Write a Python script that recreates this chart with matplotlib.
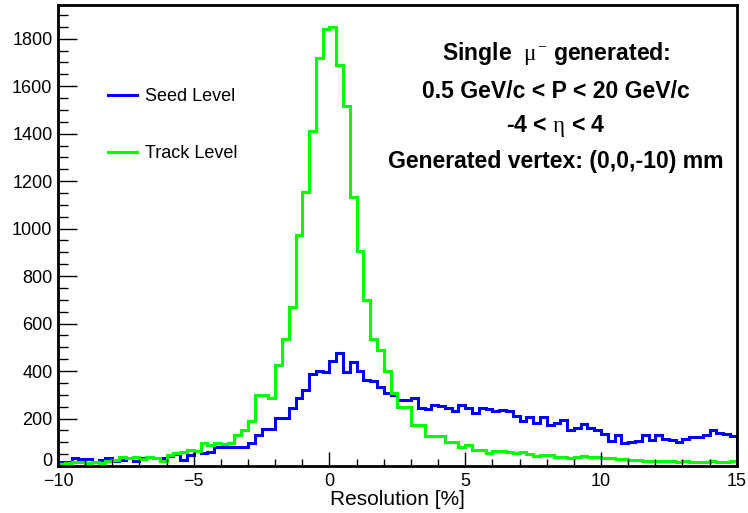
import numpy as np
import matplotlib
matplotlib.use("Agg")
import matplotlib.pyplot as plt
from matplotlib.ticker import MultipleLocator, FuncFormatter
from matplotlib.transforms import offset_copy

plt.rcParams["font.family"] = ["Liberation Sans", "DejaVu Sans"]
plt.rcParams["mathtext.fontset"] = "custom"
plt.rcParams["mathtext.rm"] = "Liberation Serif"
plt.rcParams["mathtext.it"] = "Liberation Serif"

# binning: 100 bins from -10 to 15 %
x_min, x_max, n_bins = -10, 15, 100

# seed level (blue)
seed_counts = [
    18, 18, 32, 28, 28, 18, 25, 32, 23, 25,
    32, 23, 32, 40, 32, 32, 42, 49, 25, 47,
    64, 54, 61, 79, 79, 82, 82, 79, 99, 131,
    155, 155, 202, 202, 244, 286, 321, 388, 402, 395,
    441, 474, 395, 437, 399, 364, 357, 333, 307, 300,
    279, 279, 286, 244, 240, 258, 251, 244, 230, 258,
    244, 223, 244, 241, 230, 237, 230, 209, 188, 206,
    183, 206, 174, 181, 195, 152, 160, 178, 160, 152,
    136, 107, 131, 99, 103, 107, 131, 110, 131, 113,
    110, 103, 113, 124, 121, 131, 150, 141, 136, 127,
]

# track level (green)
track_counts = [
    8, 11, 18, 18, 14, 18, 14, 23, 25, 40,
    32, 40, 28, 40, 32, 23, 47, 56, 61, 68,
    64, 96, 89, 99, 93, 99, 131, 150, 188, 300,
    300, 288, 427, 536, 671, 972, 1153, 1411, 1717, 1841,
    1848, 1691, 1515, 1132, 904, 698, 533, 490, 399, 307,
    248, 248, 174, 174, 127, 127, 127, 103, 103, 82,
    89, 68, 68, 54, 64, 62, 58, 55, 58, 52,
    42, 48, 45, 38, 38, 35, 38, 42, 40, 38,
    35, 32, 28, 30, 25, 25, 22, 22, 20, 22,
    20, 18, 22, 15, 15, 16, 22, 16, 18, 20,
]

edges = np.linspace(x_min, x_max, n_bins + 1)

fig = plt.figure(figsize=(7.48, 5.13), dpi=100)
ax = fig.add_axes([0.0775, 0.0916, 0.9075, 0.898])

ax.stairs(seed_counts, edges, color="#0000ff", linewidth=2.2, label="Seed Level")
ax.stairs(track_counts, edges, color="#00ff00", linewidth=2.2, label="Track Level")

ax.set_xlim(x_min, x_max)
ax.set_ylim(0, 1.05 * max(track_counts))

ax.xaxis.set_major_locator(MultipleLocator(5))
ax.xaxis.set_minor_locator(MultipleLocator(1))
ax.yaxis.set_major_locator(MultipleLocator(200))
ax.yaxis.set_minor_locator(MultipleLocator(50))

# the "0" on the y axis is drawn separately, a bit higher, so it clears "-10"
ax.yaxis.set_major_formatter(FuncFormatter(lambda v, p: "" if v == 0 else f"{v:.0f}"))

ax.tick_params(axis="both", which="both", direction="in", top=False, right=False,
               labelsize=13, width=1.0)
ax.tick_params(axis="y", which="major", length=14, pad=4)
ax.tick_params(axis="y", which="minor", length=7)
ax.tick_params(axis="x", which="major", length=10, pad=5)
ax.tick_params(axis="x", which="minor", length=5)

for sp in ax.spines.values():
    sp.set_linewidth(2)

zero_tr = offset_copy(ax.get_yaxis_transform(), fig=fig, x=-4, y=3, units="points")
ax.text(0, 0, "0", transform=zero_tr, ha="right", va="center", fontsize=13)

ax.set_xlabel("Resolution [%]", fontsize=15, labelpad=0)

ax.legend(loc="upper left", bbox_to_anchor=(0.05, 0.855), frameon=False,
          fontsize=13, handlelength=1.6, handletextpad=0.45, labelspacing=2.2)

info_lines = [
    r"Single  $\mu^{-}$ generated:",
    "0.5 GeV/c < P < 20 GeV/c",
    r"-4 < $\eta$ < 4",
    "Generated vertex: (0,0,-10) mm",
]
info_y = [0.896, 0.813, 0.739, 0.661]
for txt, yy in zip(info_lines, info_y):
    ax.text(0.734, yy, txt, transform=ax.transAxes, ha="center", va="center",
            fontsize=16.6, fontweight="bold")

plt.savefig("out.png", dpi=100)
